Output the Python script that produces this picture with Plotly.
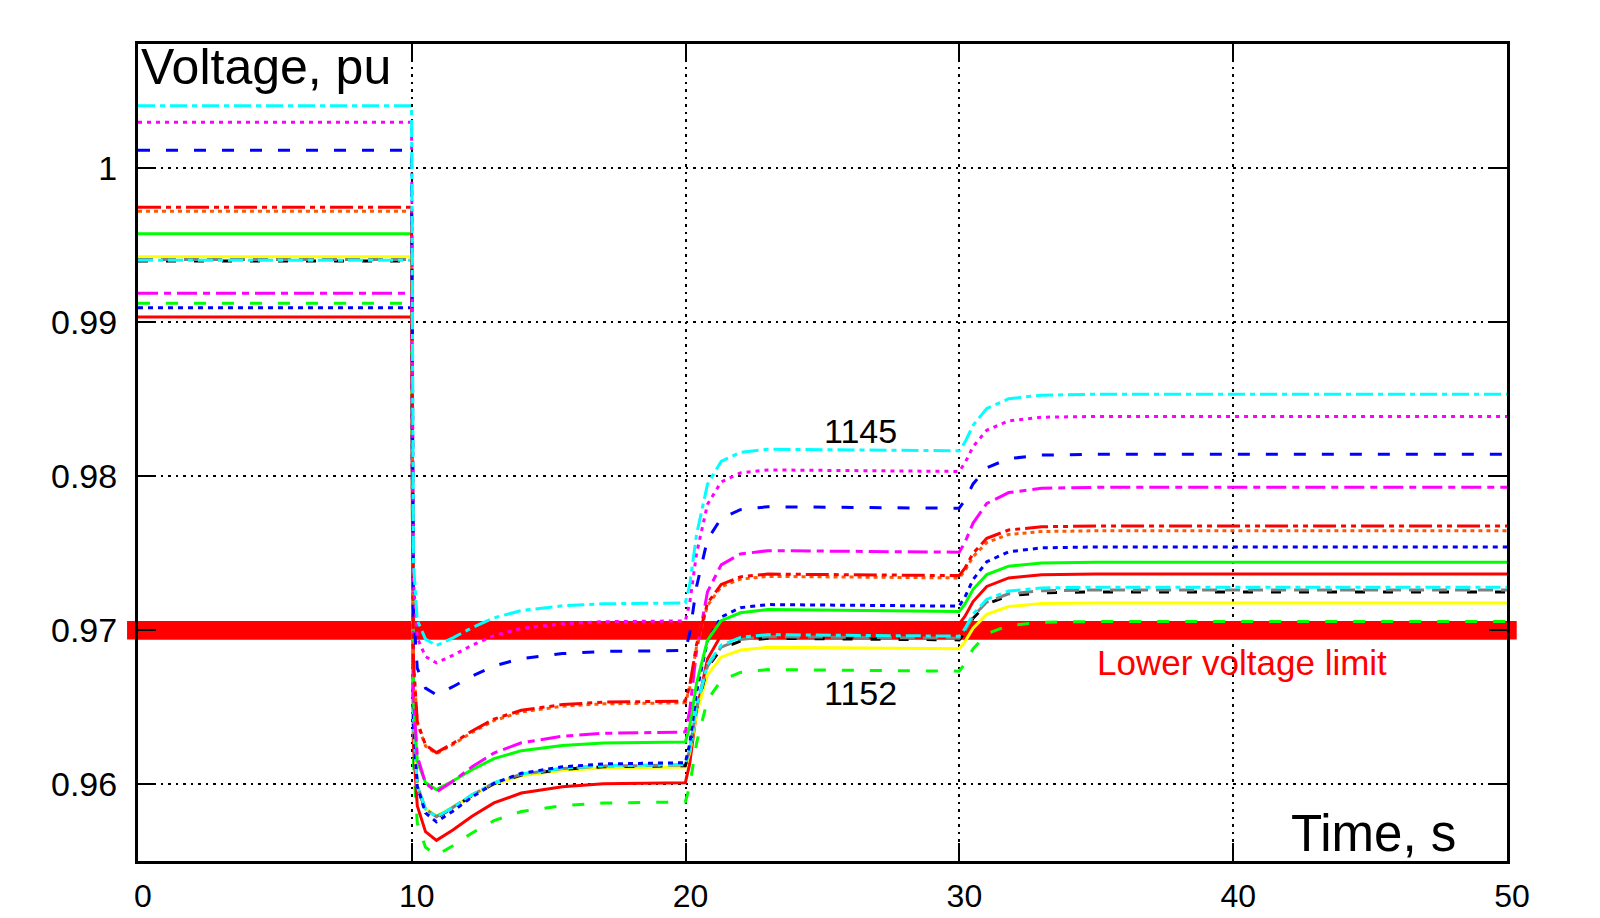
import plotly.graph_objects as go

# ---------------- data ----------------
time_s = [0, 9.99, 10.06, 10.2, 10.5, 10.9, 11.5, 12.2, 13, 14, 15.5, 17, 19.99,
          20.15, 20.4, 20.8, 21.3, 22, 23, 29.99, 30.2, 30.5, 31, 31.8, 33, 35, 50]

v_cyan_a = [1.00404, 1.00404, 0.97435, 0.97066, 0.96942, 0.96900, 0.96950, 0.97016, 0.97080, 0.97127, 0.97158, 0.97171, 0.97177,
            0.97295, 0.97621, 0.97947, 0.98095, 0.98154, 0.98174, 0.98164, 0.98219, 0.98329, 0.98439, 0.98502, 0.98525, 0.98531, 0.98531]
v_magenta_dot = [1.00296, 1.00296, 0.97319, 0.96951, 0.96829, 0.96788, 0.96837, 0.96902, 0.96965, 0.97011, 0.97041, 0.97055, 0.97060,
                 0.97176, 0.97497, 0.97817, 0.97962, 0.98020, 0.98040, 0.98030, 0.98084, 0.98191, 0.98298, 0.98358, 0.98382, 0.98387, 0.98387]
v_blue_dash = [1.00115, 1.00115, 0.97128, 0.96753, 0.96624, 0.96581, 0.96633, 0.96702, 0.96768, 0.96816, 0.96848, 0.96862, 0.96868,
               0.96979, 0.97283, 0.97588, 0.97726, 0.97782, 0.97801, 0.97791, 0.97844, 0.97949, 0.98054, 0.98113, 0.98136, 0.98141, 0.98141]
v_red_dashdotdot = [0.99745, 0.99745, 0.96796, 0.96406, 0.96255, 0.96205, 0.96265, 0.96346, 0.96423, 0.96480, 0.96517, 0.96533, 0.96540,
                    0.96638, 0.96906, 0.97175, 0.97297, 0.97346, 0.97364, 0.97354, 0.97402, 0.97499, 0.97596, 0.97650, 0.97671, 0.97676, 0.97676]
v_orange_dot = [0.99719, 0.99719, 0.96784, 0.96397, 0.96248, 0.96198, 0.96258, 0.96337, 0.96413, 0.96469, 0.96506, 0.96522, 0.96529,
                0.96626, 0.96894, 0.97161, 0.97282, 0.97331, 0.97349, 0.97339, 0.97385, 0.97477, 0.97569, 0.97621, 0.97640, 0.97645, 0.97645]
v_magenta_dashdot = [0.99186, 0.99186, 0.96567, 0.96183, 0.96008, 0.95950, 0.96020, 0.96113, 0.96203, 0.96269, 0.96312, 0.96331, 0.96339,
                     0.96479, 0.96864, 0.97249, 0.97424, 0.97494, 0.97516, 0.97506, 0.97569, 0.97695, 0.97822, 0.97893, 0.97921, 0.97927, 0.97927]
v_green_solid = [0.99573, 0.99573, 0.96538, 0.96150, 0.96011, 0.95965, 0.96021, 0.96095, 0.96166, 0.96218, 0.96252, 0.96268, 0.96274,
                 0.96376, 0.96655, 0.96935, 0.97062, 0.97113, 0.97134, 0.97121, 0.97169, 0.97265, 0.97361, 0.97415, 0.97436, 0.97441, 0.97441]
v_blue_dot = [0.99093, 0.99093, 0.96376, 0.95986, 0.95814, 0.95756, 0.95825, 0.95917, 0.96006, 0.96071, 0.96113, 0.96132, 0.96140,
              0.96262, 0.96597, 0.96932, 0.97085, 0.97146, 0.97166, 0.97156, 0.97214, 0.97329, 0.97444, 0.97509, 0.97534, 0.97540, 0.97540]
v_cyan_b = [0.99400, 0.99400, 0.96390, 0.95992, 0.95839, 0.95788, 0.95849, 0.95931, 0.96009, 0.96067, 0.96104, 0.96121, 0.96128,
            0.96228, 0.96503, 0.96778, 0.96903, 0.96953, 0.96971, 0.96961, 0.97009, 0.97104, 0.97200, 0.97254, 0.97274, 0.97279, 0.97279]
v_gray_dash = [0.99406, 0.99406, 0.96387, 0.95991, 0.95840, 0.95790, 0.95850, 0.95931, 0.96008, 0.96065, 0.96102, 0.96118, 0.96125,
               0.96224, 0.96495, 0.96767, 0.96890, 0.96940, 0.96958, 0.96948, 0.96995, 0.97089, 0.97183, 0.97236, 0.97256, 0.97261, 0.97261]
v_black_dash = [0.99395, 0.99395, 0.96382, 0.95986, 0.95835, 0.95785, 0.95845, 0.95926, 0.96003, 0.96060, 0.96097, 0.96113, 0.96120,
                0.96218, 0.96488, 0.96757, 0.96880, 0.96929, 0.96947, 0.96937, 0.96984, 0.97077, 0.97170, 0.97223, 0.97243, 0.97248, 0.97248]
v_yellow = [0.99424, 0.99424, 0.96377, 0.95985, 0.95843, 0.95795, 0.95852, 0.95928, 0.96001, 0.96055, 0.96090, 0.96106, 0.96112,
            0.96204, 0.96457, 0.96710, 0.96825, 0.96871, 0.96889, 0.96879, 0.96924, 0.97013, 0.97103, 0.97153, 0.97173, 0.97177, 0.97177]
v_red_solid = [0.99032, 0.99032, 0.96252, 0.95860, 0.95692, 0.95636, 0.95703, 0.95793, 0.95879, 0.95943, 0.95984, 0.96003, 0.96010,
               0.96134, 0.96474, 0.96813, 0.96968, 0.97030, 0.97050, 0.97040, 0.97089, 0.97186, 0.97284, 0.97339, 0.97360, 0.97365, 0.97365]
v_green_dash = [0.99121, 0.99121, 0.96144, 0.95747, 0.95591, 0.95539, 0.95601, 0.95684, 0.95764, 0.95823, 0.95861, 0.95878, 0.95885,
                0.95987, 0.96267, 0.96547, 0.96675, 0.96726, 0.96744, 0.96734, 0.96782, 0.96879, 0.96976, 0.97030, 0.97051, 0.97056, 0.97056]

lower_limit = 0.97
x_ticks = [0, 10, 20, 30, 40, 50]
y_ticks = [0.96, 0.97, 0.98, 0.99, 1.0]
y_tick_text = ["0.96", "0.97", "0.98", "0.99", "1"]

# ---------------- styles ----------------
series = [
    (v_green_dash, "#00FF00", "12px,16px"),
    (v_red_solid, "#FF0000", "solid"),
    (v_yellow, "#FFFF00", "solid"),
    (v_black_dash, "#000000", "10px,18px"),
    (v_gray_dash, "#808080", "15px,8px"),
    (v_cyan_b, "#00FFFF", "15px,5px,5px,5px"),
    (v_blue_dot, "#0000FF", "5px,5px"),
    (v_green_solid, "#00FF00", "solid"),
    (v_magenta_dashdot, "#FF00FF", "20px,6px,7px,6px"),
    (v_orange_dot, "#FF5A00", "4px,4px"),
    (v_red_dashdotdot, "#FF0000", "23px,5px,5px,5px,5px,5px"),
    (v_blue_dash, "#0000FF", "12px,16px"),
    (v_magenta_dot, "#FF00FF", "4px,5px"),
    (v_cyan_a, "#00FFFF", "17px,5px,5px,5px"),
]

FONT = "Liberation Sans, Arial, sans-serif"

fig = go.Figure()
for vals, col, dash in series:
    fig.add_trace(go.Scatter(x=time_s, y=vals, mode="lines",
                             line=dict(color=col, width=3, dash=dash),
                             showlegend=False, hoverinfo="skip"))

# lower voltage limit band (extends slightly beyond the frame)
fig.add_shape(type="rect", xref="paper", yref="y", x0=-0.008, x1=1.0071,
              y0=lower_limit - 0.0006, y1=lower_limit + 0.0006,
              fillcolor="#FF0000", line=dict(width=0), layer="below")
fig.add_shape(type="rect", xref="x", yref="y", x0=x_ticks[0], x1=x_ticks[-1],
              y0=lower_limit - 0.0006, y1=lower_limit + 0.0006,
              fillcolor="#FF0000", line=dict(width=0), layer="between")

ann = [
    dict(text="Voltage, pu", x=0.05, y=1.00655, xanchor="left", yanchor="middle", size=50, color="black"),
    dict(text="Time, s", x=48.2, y=0.95680, xanchor="right", yanchor="middle", size=51, color="black"),
    dict(text="1145", x=26.4, y=0.98291, xanchor="center", yanchor="middle", size=34, color="black"),
    dict(text="1152", x=26.4, y=0.96590, xanchor="center", yanchor="middle", size=34, color="black"),
    dict(text="Lower voltage limit", x=40.31, y=0.96791, xanchor="center", yanchor="middle", size=35, color="#FF0000"),
]
for a in ann:
    fig.add_annotation(text=a["text"], x=a["x"], y=a["y"], xref="x", yref="y",
                       xanchor=a["xanchor"], yanchor=a["yanchor"], showarrow=False,
                       font=dict(family=FONT, size=a["size"], color=a["color"]))

axis_common = dict(showline=True, linecolor="black", linewidth=3, mirror="ticks",
                   ticks="inside", ticklen=18, tickwidth=2, tickcolor="black",
                   showgrid=True, gridcolor="black", gridwidth=1.5, griddash="2.5px,5px",
                   zeroline=False, automargin=False)

fig.update_xaxes(range=[0, 50], tickvals=x_ticks, ticktext=[str(v) for v in x_ticks],
                 ticklabelstandoff=5, ticklabelshift=5,
                 tickfont=dict(family=FONT, size=32, color="black"), **axis_common)
fig.update_yaxes(range=[0.95502, 1.00804], tickvals=y_ticks, ticktext=y_tick_text,
                 ticklabelstandoff=11,
                 tickfont=dict(family=FONT, size=34, color="black"), **axis_common)

fig.update_layout(width=1600, height=918, margin=dict(l=138, r=93, t=44, b=57),
                  paper_bgcolor="white", plot_bgcolor="white", showlegend=False)

fig.write_html("out.html", config={"displayModeBar": False},
               post_script="document.body.style.margin='0';")
